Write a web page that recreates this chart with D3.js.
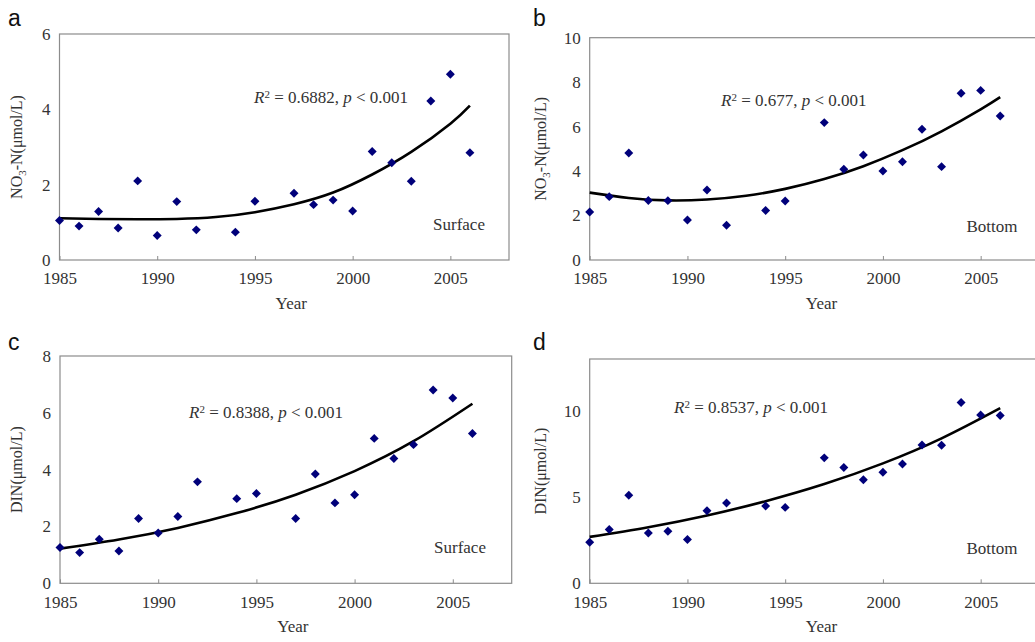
<!DOCTYPE html>
<html>
<head>
<meta charset="utf-8">
<script src="https://cdn.jsdelivr.net/npm/d3@7"></script>
<style>
  body { margin: 0; background: #fff; }
  svg { display: block; }
  text { font-family: "Liberation Serif", "Times New Roman", serif; fill: #333; }
  .letter { font-family: "Liberation Sans", Arial, sans-serif; fill: #111; }
</style>
</head>
<body>
<div id="chart"></div>
<script>
// Data
const years = [1985, 1986, 1987, 1988, 1989, 1990, 1991, 1992, 1994, 1995,
               1997, 1998, 1999, 2000, 2001, 2002, 2003, 2004, 2005, 2006];

const no3Surface = [1.05, 0.90, 1.29, 0.85, 2.10, 0.65, 1.55, 0.80, 0.74, 1.56,
                    1.77, 1.47, 1.59, 1.30, 2.88, 2.58, 2.09, 4.22, 4.93, 2.85];
const no3Bottom  = [2.16, 2.85, 4.81, 2.68, 2.67, 1.80, 3.15, 1.56, 2.23, 2.65,
                    6.18, 4.08, 4.72, 4.00, 4.42, 5.88, 4.20, 7.50, 7.63, 6.48];
const dinSurface = [1.26, 1.08, 1.55, 1.14, 2.28, 1.77, 2.35, 3.57, 2.98, 3.16,
                    2.28, 3.85, 2.83, 3.12, 5.10, 4.39, 4.88, 6.80, 6.52, 5.27];
const dinBottom  = [2.38, 3.12, 5.10, 2.92, 3.02, 2.54, 4.21, 4.65, 4.48, 4.40,
                    7.27, 6.71, 6.00, 6.44, 6.92, 8.02, 8.00, 10.48, 9.75, 9.73];

// Trend lines, read at sample years
const trendYearsA = [1985, 1987, 1989, 1991, 1993, 1995, 1997, 1999, 2001, 2003, 2005, 2006];
const trendA = [1.11, 1.09, 1.08, 1.09, 1.14, 1.27, 1.48, 1.79, 2.27, 2.87, 3.62, 4.10];
const trendYearsB = [1985, 1987, 1989, 1991, 1993, 1995, 1997, 1999, 2001, 2003, 2005, 2006];
const trendB = [3.03, 2.79, 2.68, 2.72, 2.89, 3.20, 3.64, 4.22, 4.94, 5.79, 6.78, 7.33];
const trendYearsCD = [1985, 1988, 1991, 1994, 1997, 2000, 2003, 2006];
const trendC = [1.22, 1.54, 1.95, 2.47, 3.12, 3.95, 5.00, 6.32];
const trendD = [2.69, 3.25, 3.93, 4.76, 5.75, 6.95, 8.40, 10.15];

const xTicks = [1985, 1990, 1995, 2000, 2005];

const SERIF = "'Liberation Serif', 'Times New Roman', serif";

const panels = [
  { letter: "a", ylab: "no3", yMax: 6, yTicks: [0, 2, 4, 6], values: no3Surface,
    tYears: trendYearsA, trend: trendA, r2: "0.6882", tag: "Surface",
    box: { left: 59.5, right: 509, top: 34, bottom: 260 },
    r2Pos: [254, 103], tagPos: [459, 230], letterPos: [8, 26], ylabX: 22 },
  { letter: "b", ylab: "no3", yMax: 10, yTicks: [0, 2, 4, 6, 8, 10], values: no3Bottom,
    tYears: trendYearsB, trend: trendB, r2: "0.677", tag: "Bottom",
    box: { left: 589.7, right: 1039.3, top: 37.7, bottom: 260 },
    r2Pos: [721, 106], tagPos: [992, 232], letterPos: [533, 26], ylabX: 546 },
  { letter: "c", ylab: "din", yMax: 8, yTicks: [0, 2, 4, 6, 8], values: dinSurface,
    tYears: trendYearsCD, trend: trendC, r2: "0.8388", tag: "Surface",
    box: { left: 60, right: 511.7, top: 356, bottom: 583.3 },
    r2Pos: [189, 418], tagPos: [460, 553], letterPos: [8, 350], ylabX: 22 },
  { letter: "d", ylab: "din", yMax: 13, yTicks: [0, 5, 10], values: dinBottom,
    tYears: trendYearsCD, trend: trendD, r2: "0.8537", tag: "Bottom",
    box: { left: 589.7, right: 1039.3, top: 359, bottom: 583.3 },
    r2Pos: [674, 413], tagPos: [992, 554], letterPos: [533, 350], ylabX: 546 }
];

const svg = d3.select("#chart").append("svg")
  .attr("width", 1035)
  .attr("height", 642);

panels.forEach(p => {
  const b = p.box;
  const x = d3.scaleLinear().domain([1985, 2008]).range([b.left, b.right]);
  const y = d3.scaleLinear().domain([0, p.yMax]).range([b.bottom, b.top]);
  const g = svg.append("g");

  // frame
  g.append("rect")
    .attr("x", b.left).attr("y", b.top)
    .attr("width", b.right - b.left).attr("height", b.bottom - b.top)
    .attr("fill", "none").attr("stroke", "#8c8c8c").attr("stroke-width", 1.2);

  // x axis: small inward ticks
  const xAxis = g.append("g")
    .attr("transform", `translate(0,${b.bottom})`)
    .call(d3.axisBottom(x).tickValues(xTicks).tickSizeInner(-4).tickSizeOuter(0)
      .tickPadding(9).tickFormat(d3.format("d")))
    .attr("font-family", SERIF).attr("font-size", 17);
  xAxis.select(".domain").remove();
  xAxis.selectAll("line").attr("stroke", "#8c8c8c");
  xAxis.selectAll("text").attr("dy", "0.9em").attr("fill", "#2a2a2a")
    .attr("font-family", SERIF).style("font-family", SERIF);

  // y axis labels only
  const yAxis = g.append("g")
    .attr("transform", `translate(${b.left},0)`)
    .call(d3.axisLeft(y).tickValues(p.yTicks).tickSize(0).tickPadding(9)
      .tickFormat(d3.format("d")))
    .attr("font-family", SERIF).attr("font-size", 17);
  yAxis.select(".domain").remove();
  yAxis.selectAll("text").attr("fill", "#2a2a2a")
    .attr("font-family", SERIF).style("font-family", SERIF);

  // trend line
  const line = d3.line()
    .x((d, i) => x(p.tYears[i]))
    .y(d => y(d))
    .curve(d3.curveNatural);
  g.append("path")
    .datum(p.trend)
    .attr("d", line)
    .attr("fill", "none")
    .attr("stroke", "#000")
    .attr("stroke-width", 2.6);

  // points
  g.selectAll(".pt")
    .data(p.values)
    .enter().append("path")
    .attr("class", "pt")
    .attr("d", d3.symbol().type(d3.symbolSquare).size(40))
    .attr("transform", (d, i) => `translate(${x(years[i])},${y(d)}) rotate(45)`)
    .attr("fill", "#00007a");

  // R² annotation
  const t = g.append("text")
    .attr("x", p.r2Pos[0]).attr("y", p.r2Pos[1])
    .style("font-size", "17px");
  t.append("tspan").style("font-style", "italic").text("R");
  t.append("tspan").attr("dy", -5).style("font-size", "11px").text("2");
  t.append("tspan").attr("dy", 5).text(` = ${p.r2}, `);
  t.append("tspan").style("font-style", "italic").text("p");
  t.append("tspan").text(" < 0.001");

  // Surface / Bottom tag
  g.append("text")
    .attr("x", p.tagPos[0]).attr("y", p.tagPos[1])
    .attr("text-anchor", "middle")
    .style("font-size", "17px")
    .text(p.tag);

  // x label
  g.append("text")
    .attr("x", (b.left + b.right) / 2 + 7)
    .attr("y", b.bottom + 49)
    .attr("text-anchor", "middle")
    .style("font-size", "17px")
    .text("Year");

  // y label
  const yl = g.append("text")
    .attr("transform", `translate(${p.ylabX},${(b.top + b.bottom) / 2}) rotate(-90)`)
    .attr("text-anchor", "middle")
    .style("font-size", "16px");
  if (p.ylab === "no3") {
    yl.append("tspan").text("NO");
    yl.append("tspan").attr("dy", 4).style("font-size", "11px").text("3");
    yl.append("tspan").attr("dy", -4).text("-N(\u03bcmol/L)");
  } else {
    yl.text("DIN(\u03bcmol/L)");
  }

  // panel letter
  svg.append("text")
    .attr("class", "letter")
    .attr("x", p.letterPos[0]).attr("y", p.letterPos[1])
    .style("font-size", "23px")
    .text(p.letter);
});
</script>
</body>
</html>
